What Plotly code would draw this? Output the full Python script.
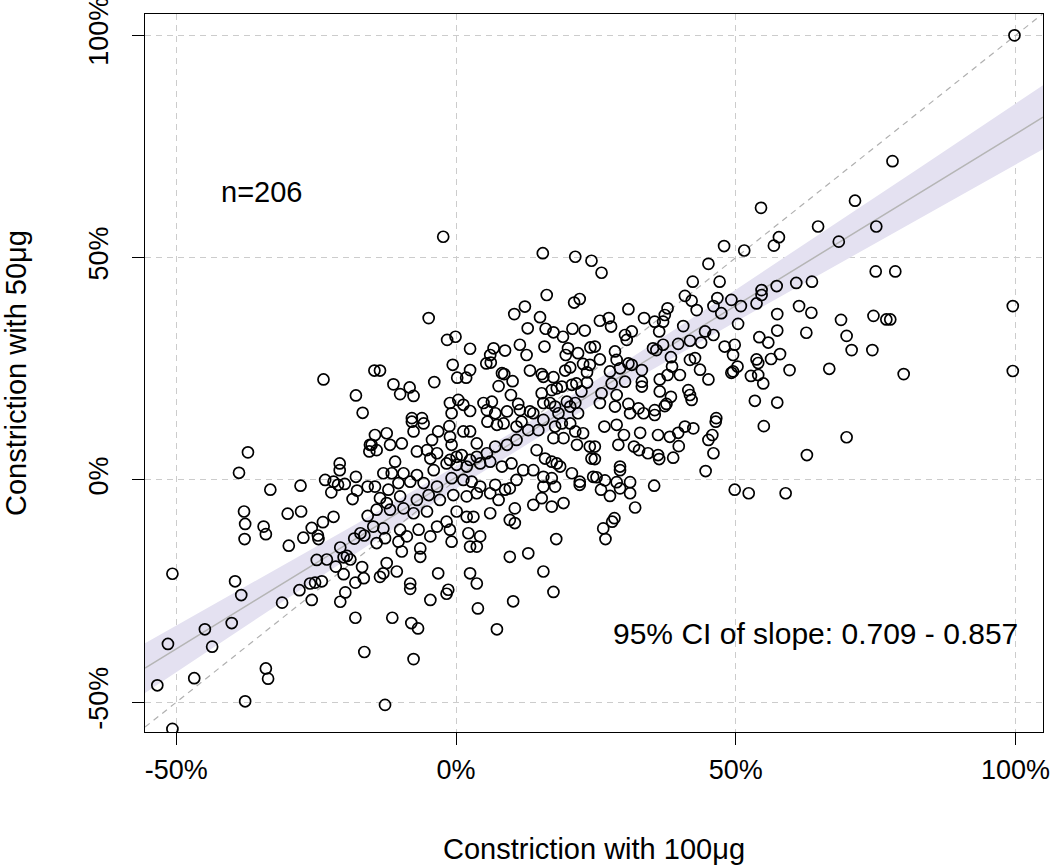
import numpy as np
import plotly.graph_objects as go

# ---- data (percent constriction) ----
pts = [
(99.8,100),(78,71.7),(71.3,62.8),(54.5,61.2),(64.7,57),(75.1,57),(68.4,53.6),(57.7,54.6),(56.8,52.7),(47.9,52.6),(51.5,51.6),(-2.3,54.7),(15.5,51),
(21.3,50.2),(24.2,49.3),(16.2,41.6),(21.1,39.9),(22.1,40.7),(-4.9,36.4),(10.4,37.3),(12.3,39),(15,36.6),(12.8,34.1),(16,34),(17.4,33.2),(19.1,32.2),(20.8,34),(23,33.6),(-1.6,31.5),(-0.1,32.2),(2.5,29.5),(11.4,30.4),(15.8,30),(6.7,29.6),(6.1,28.1),(5.4,26.2),(6.2,26.4),(8.75,29.1),(12.6,28.1),(20,29.6),(19.6,28.1),(21.8,28.5),(24,29.8),(-0.6,25.9),(0.2,23),(1.8,23),(2.5,24.7),(-14.6,24.6),(-13.6,24.6),(-3.9,22),(-11.2,21.5),(-10,19.3),(-8.3,20.8),(-7.6,18.9),(8.2,24),(8.6,23.8),(7.6,21.1),(10.1,22.2),(13.2,24.6),(15.3,23.8),(15.6,23.2),(17.4,23.1),(19.5,24.6),(20.4,25.3),(22.7,26.1),(23.9,25.9),(23.4,24.2),(23.4,21.9),(9.8,19.1),(15.3,19.5),(17.1,20.2),(18,20.6),(18.9,21),(20.7,21.4),(21.5,21.7),(22.4,19.9),
(-1.1,17.3),(0.4,18),(1.3,16.9),(-0.8,15),(2.5,15.5),(4.9,17.3),(5.5,15.7),(6.4,17.6),(7,15),(9.1,15.4),(11.1,17.1),(11.4,15.7),(13.2,15.4),(13.8,15),(15.6,17.3),(16.8,17.3),(17.7,16.5),(18.3,15),(19.8,17.6),(20.4,16.5),(21.3,17.3),(21.8,15),(-7.9,13.9),(-6.1,13.9),
(26,46.6),(45.1,48.6),(42.3,44.6),(47.1,44.6),(40.9,41.4),(42.1,40.3),(43,38.2),(30.8,38.4),(33.6,36.4),(37.8,38.6),(37.3,37.1),(37,35.6),(35.5,35.6),(36.3,33.4),(25.7,35.8),(27.3,36.4),(27.7,34.5),(30.2,32.6),(31.4,33.4),(30.5,31.5),(40.6,34.6),(46.7,40.9),(46,39.1),(47.4,37.5),(49.2,40.5),(50.9,39.1),(50.4,35.1),(54.6,42.7),(54.6,41.6),(53.7,39.7),(57.3,43.6),(60.8,44.3),(63.6,44.6),(61.3,39.1),(63.5,37.6),(57.4,37.3),(57.4,33.6),(54.2,32.1),(55.8,30.9),(62.6,33.1),(44.5,33.4),(46,32.6),(43.8,30.9),(41.8,31.3),(39.7,30.6),(48,30),(49.8,30.4),(49.5,28.1),(53.7,27.1),(54,26.3),(56.3,27.2),(57.9,28.3),(59.6,24.7),(50.3,25.5),(49.5,24.4),(49.2,24.1),(52.7,23.4),(54,23.6),(54.9,21.7),(53.4,17.8),(57.4,17.4),(35.2,29.6),(35.8,29.2),(37,30.4),(38.4,27.6),(38.6,25.5),(37.8,23.6),(40,23.6),(41.8,27),(42.7,27.4),(43.6,24.8),(45.1,22.6),(36.4,22.6),(36.4,19.9),(38.4,18.7),(37.6,17.1),(41.5,20.2),(41.8,19.1),(42.1,18),(28.4,28.9),(28.7,27),(29.3,25.1),(30.8,26.2),(31.4,25.9),(25.7,27.1),(24.8,30),(27.5,24.4),(27.8,21.7),(30.2,22.1),(33.2,24.7),(33.2,22.1),(33.2,21),(26,19.5),(28.7,19.1),(28.4,16.5),(30.8,17.1),(25.7,17.3),(31.1,15),(32.6,16.1),(33.5,15),(35.5,15.7),(35.5,14.6),(37.3,16.6),(46.5,13.9),
(75,46.9),(78.5,46.9),(99.5,39.1),(68.8,36),(74.6,36.9),(76.9,36.1),(77.6,36.1),(69.8,32.4),(70.7,29.2),(74.4,29.2),(66.7,25),(80,23.8),(99.5,24.5),
(-23.7,22.6),(-17.9,19),(-16.7,15.1),
(-37.2,6.2),(-38.8,1.6),(-33.2,-2.2),(-27.8,-1.3),(-20.8,3.7),(-20.8,2.2),(-23.4,0),(-21.9,-0.4),(-21.1,-1.1),(-19.9,-0.9),(-17.9,0.7),(-22.3,-2.8),(-17.7,-2.4),(-18.5,-4.3),(-15.8,-1.5),(-15.5,6.4),(-15.4,7.9),(-37.9,-7.1),(-37.7,-9.9),(-37.8,-13.3),(-34.4,-10.5),(-34,-12.2),(-30.1,-7.6),(-27.7,-7.1),(-29.9,-14.8),(-27.3,-13),(-25.8,-10.8),(-23.8,-9.5),(-21.9,-8.3),(-24.7,-12.5),(-24.6,-13.3),(-15.8,-8.1),(-18.2,-13.2),(-17.1,-12),(-16.4,-12.5),(-20.7,-15.2),(-19.5,-17.1),(-18.9,-17.9),(-20.1,-17.4),(-21.5,-19.5),(-20.1,-21.2),(-24.9,-18),(-23.1,-17.9),(-16.8,-19.6),(-16.5,-22.1),(-18,-23.1),(-26.1,-23.3),(-25.2,-23.1),(-24,-22.8),(-50.7,-21.1),(-39.5,-22.8),
(-38.4,-25.9),(-51.5,-36.9),(-44.9,-33.6),(-43.6,-37.5),(-40.1,-32.2),(-53.4,-46.2),(-46.8,-44.6),(-37.7,-49.8),(-34,-42.4),(-33.6,-44.7),(-31.1,-27.6),(-28,-24.8),(-25.8,-27),(-20.7,-27.4),(-19.8,-25.3),(-18,-31),(-16.4,-38.7),(-11.4,-31),(-12.7,-50.6),(-8,-32.2),(-6.8,-33.4),(-7.6,-40.3),(-4.6,-27),(-1.7,-25.6),(-8.2,-24.5),(3.9,-28.9),(7.3,-33.6),(10.2,-27.3),(17.4,-25.2),(-50.7,-56),
(55,12.1),(62.7,5.6),(49.8,-2.2),(52.3,-3),(58.9,-3),(44.6,2),(46,6),(45.1,9),(45.8,10.1),(46.4,13.1),(38.8,5),(39.8,7.6),(39.7,10.6),(40.9,12),(42.4,11.6),(38.2,9.7),(36.1,10.1),(36.1,5.6),(36.3,4.7),(34.3,6),(32.7,6.7),(31.8,7.5),(32.9,10.6),(30,10.1),(28.7,12.4),(26.5,12),(29,7.9),(29.3,3),(29.3,2.2),(25.1,0.6),(26.6,-0.1),(28.7,-0.5),(29.3,-1.9),(31.1,-0.5),(31.1,-3),(27.5,-3.6),(25.9,-2.2),(35.4,-1.3),(32,-6.2),(28.3,-8.6),(27.9,-9.4),(26.3,-10.9),(26.7,-13.3),(24.8,7.5),(24.8,4.7),
(69.8,9.6),
(-7.9,13.1),(-5.8,12.7),(-1.2,12.1),(1.3,10.9),(2.5,10.9),(5.6,13.1),(7.3,12.4),(8.5,12.7),(10.8,12),(12.9,11.2),(14.7,11.2),(17.7,12),(18.9,12.7),(20.4,12.7),(21.3,10.9),(22.7,10.5),(15.6,13.5),(11.7,13.1),
(-14.5,10.1),(-12.4,10.5),(-15.1,7.9),(-14.2,6.7),(-11.8,7.9),(-9.7,8.2),(-7.6,10.9),(-4.3,9),(-3.2,10.9),(-1.1,9.7),(-0.8,7.9),(3.7,8.2),
(-7,6.4),(-5.2,6.7),(-4.6,4.8),(-3.4,6),(-10.9,4.1),(-1.1,4.5),(0.1,5.2),(1,5.6),(2.5,4.5),(3.7,5.2),(5.5,6),(7,7.5),(9.1,7.9),(10.8,9),(14.4,6.7),(17.4,9.4),(19.2,9.4),(21.6,7.9),(23.9,7.5),(15.9,4.8),(17.1,4.1),(18,3.7),(18.6,3),(20.7,1.5),(22.1,-0.4),(22.1,-1.1),(24.2,4.8),(24.5,0.7),
(-13,1.5),(-11.5,1.5),(-9.4,1.5),(-7,1.1),(-4,2.2),(-1.7,3.7),(0.1,3.4),(1.9,3),(4.3,3.7),(6.1,4.1),(8.2,3),(9.9,3.7),(12,2.2),(13.8,2.2),(15.6,0.7),(17.1,0.4),(17.7,-1.5),(15.6,-1.5),(-14.5,-1.5),(-12.1,-2.2),(-10.3,-0.7),(-8.2,-0.4),(-5.8,-0.7),(-3.4,-1.5),(-0.8,0.4),(1.3,0),(2.8,-0.4),(4.3,-1.5),(7,-1.1),(8.75,-2.2),(10.8,0),(-13.6,-4.1),(-12.4,-5.2),(-10,-3.7),(-7,-4.5),(-4.9,-3.4),(-2.9,-4.5),(-0.5,-3.4),(1.9,-3.7),(3.7,-3),(6.1,-3),(7.6,-4.5),(9.6,-1.9),(13.8,-5.6),(15.3,-4.1),(17.1,-6),(19.2,-5.2),(10.5,-6.4),
(-14.2,-6.7),(-11.8,-6.7),(-9.4,-6.4),(-7.6,-7.5),(-5.2,-7.1),(-3.4,-10.5),(-1.7,-9.4),(0.1,-7.1),(1.9,-8.3),(3.1,-8.3),(6.1,-7.5),(9.6,-9),(10.5,-9.7),(-14.8,-10.5),(-13,-10.9),(-10,-11.2),(-8.8,-12.7),(-6.7,-11.2),(-4.6,-12.7),(-1.1,-11.2),(-0.8,-13.9),(2.5,-15),(3.7,-15),(4.3,-12.7),(-14.2,-14.2),(-12.7,-13.1),(-10.3,-13.9),(-6.4,-15.4),(-9.7,-16.1),(-6.4,-17.3),(-12.4,-18.7),(-10.6,-20.6),(-13,-21),(-13.6,-21.8),(-3.2,-21),(2.5,-21),(3.7,-23.3),(-8.2,-23.3),(9.6,-17.3),(12.9,-16.5),(15.6,-20.6),(17.9,-13.3),(-1.4,-24.7),(2.2,-12),
]
x_100ug = [p[0] for p in pts]
y_50ug = [p[1] for p in pts]

tick_vals = [-50, 0, 50, 100]
tick_text = ["-50%", "0%", "50%", "100%"]
CI_LOW, CI_HIGH = 0.709, 0.857      # slope CI stated on the chart
FIT_SLOPE, FIT_INTERCEPT = 0.772, 0.6   # fitted line
FIT_XCENTER, FIT_SE_MEAN = 13.0, 1.2    # band centre and standard error at centre
X_RANGE = [-55.6, 104.9]
Y_RANGE = [-56.7, 104.8]

se_slope = (CI_HIGH - CI_LOW) / (2 * 1.96)
xl = np.linspace(X_RANGE[0], X_RANGE[1], 200)
yl = FIT_SLOPE * xl + FIT_INTERCEPT
se_fit = np.sqrt(FIT_SE_MEAN**2 + (xl - FIT_XCENTER)**2 * se_slope**2)
upper = yl + 1.96 * se_fit
lower = yl - 1.96 * se_fit

FONT = "Liberation Sans, Arial, Helvetica, sans-serif"

fig = go.Figure()
fig.add_trace(go.Scatter(x=np.concatenate([xl, xl[::-1]]), y=np.concatenate([upper, lower[::-1]]),
                         fill="toself", fillcolor="rgba(228,225,241,1)", line=dict(width=0),
                         hoverinfo="skip", showlegend=False))
fig.add_trace(go.Scatter(x=xl, y=yl, mode="lines", line=dict(color="#b5b5b5", width=1.5),
                         showlegend=False))
fig.add_trace(go.Scatter(x=[X_RANGE[0], Y_RANGE[1]], y=[X_RANGE[0], Y_RANGE[1]], mode="lines",
                         line=dict(color="#b0b0b0", width=1.2, dash="6px,5px"), showlegend=False))
fig.add_trace(go.Scatter(x=x_100ug, y=y_50ug, mode="markers",
                         marker=dict(symbol="circle-open", size=11, color="black",
                                     line=dict(width=1.7, color="black")),
                         showlegend=False))

fig.add_annotation(x=-42.3, y=64.8, text="n=206", showarrow=False, xanchor="left",
                   font=dict(family=FONT, size=29, color="black"))
fig.add_annotation(x=64.2, y=-34.6, text="95% CI of slope: 0.709 - 0.857", showarrow=False,
                   font=dict(family=FONT, size=30, color="black"))

axis_common = dict(tickvals=tick_vals, ticktext=tick_text, showgrid=True, gridcolor="#cccccc",
                   griddash="6px,5px", gridwidth=1, zeroline=False, showline=True, linecolor="black",
                   linewidth=1.2, mirror=True, ticks="outside", ticklen=12, tickwidth=1.2,
                   tickcolor="black", tickfont=dict(family=FONT, size=27, color="black"),
                   automargin=False, ticklabeloverflow="allow")
fig.update_xaxes(range=X_RANGE, title=dict(text="Constriction with 100μg", standoff=55,
                 font=dict(family=FONT, size=29, color="black")), ticklabelstandoff=1, **axis_common)
fig.update_yaxes(range=Y_RANGE, tickangle=-90, title=dict(text="Constriction with 50μg", standoff=50,
                 font=dict(family=FONT, size=29, color="black")), ticklabelstandoff=13, **axis_common)

fig.update_layout(width=1050, height=867, margin=dict(l=145, r=7, t=14, b=135),
                  plot_bgcolor="white", paper_bgcolor="white", showlegend=False)
# remove the default page margin so the figure fills the window exactly
fig.write_html("out.html", config={"displayModeBar": False},
               post_script="document.body.style.margin='0px';")
